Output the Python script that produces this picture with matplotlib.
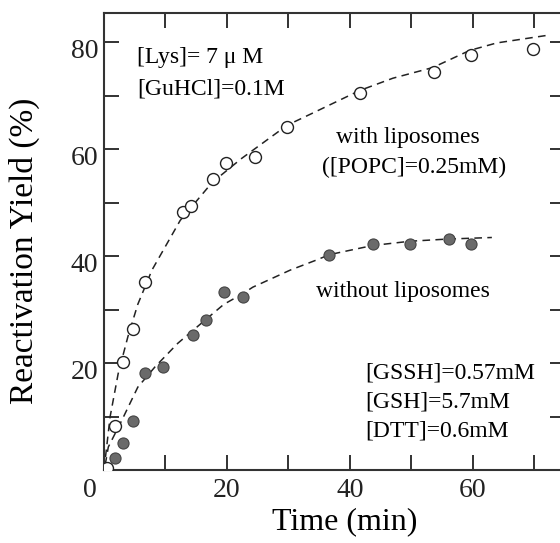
import matplotlib
matplotlib.use("Agg")
import matplotlib.pyplot as plt
from matplotlib.ticker import MultipleLocator
import matplotlib.transforms as mtrans

plt.rcParams['font.family'] = ['Liberation Serif', 'DejaVu Serif']

# data
t_with = [0.5, 1.8, 3.1, 4.7, 6.7, 12.8, 14.1, 17.8, 19.8, 24.6, 29.8, 41.6, 53.7, 59.7, 69.8]
y_with = [0.3, 8.2, 20.2, 26.4, 35.2, 48.3, 49.3, 54.5, 57.4, 58.5, 64.1, 70.5, 74.4, 77.6, 78.7]

t_without = [1.8, 3.1, 4.7, 6.7, 9.6, 14.5, 16.6, 19.5, 22.6, 36.6, 43.7, 49.8, 56.1, 59.7]
y_without = [2.2, 5.0, 9.2, 18.1, 19.3, 25.3, 28.1, 33.3, 32.4, 40.2, 42.2, 42.2, 43.2, 42.2]

# dashed fit curves (traced)
fit_with_t = [0, 1.0, 2.3, 3.9, 5.5, 7.8, 12.4, 17.6, 22.4, 29.8, 34.0, 41.6, 47.0, 53.5, 59.5, 63.9, 72]
fit_with_y = [0, 10, 18, 25, 31, 37.4, 46.7, 53.8, 58.3, 64.5, 66.8, 71.0, 73.3, 75.3, 78.5, 79.9, 81.3]

fit_wo_t = [0.2, 0.7, 2.9, 5.5, 8.3, 12.0, 16.4, 19.5, 22.6, 24.2, 30.3, 34.6, 36.7, 43.7, 49.8, 55.8, 63.1]
fit_wo_y = [1.0, 4.3, 9.3, 15.5, 19.3, 23.7, 28.0, 31.0, 33.0, 34.2, 37.4, 39.3, 40.3, 42.0, 42.8, 43.2, 43.5]

xticks = [0, 20, 40, 60]
yticks = [20, 40, 60, 80]

fig = plt.figure(figsize=(5.6, 5.43), dpi=100)
ax = fig.add_axes([104/560, 73/543, 461/560, 457/543])

ax.plot(fit_with_t, fit_with_y, ls=(0, (5, 3.5)), color='#222222', lw=1.1, zorder=2)
ax.plot(fit_wo_t, fit_wo_y, ls=(0, (5, 3.5)), color='#222222', lw=1.1, zorder=2)
ax.plot(t_with, y_with, 'o', ms=8.6, mfc='white', mec='#222222', mew=1.0, zorder=3)
ax.plot(t_without, y_without, 'o', ms=8.0, mfc='#6a6a6a', mec='#444444', mew=0.8, zorder=3)

ax.set_xlim(0, 75)
ax.set_ylim(0, 85.5)
ax.set_xticks(xticks)
ax.set_yticks(yticks)
ax.xaxis.set_minor_locator(MultipleLocator(10))
ax.yaxis.set_minor_locator(MultipleLocator(10))
ax.tick_params(which='both', direction='in', top=True, right=True,
               length=10.5, width=1.3, labelsize=20, pad=4, colors='#222222')
ax.tick_params(axis='x', pad=6)

for s in ax.spines.values():
    s.set_linewidth(1.5)
    s.set_color('#333333')

# the "0" label sits left of its tick, y labels sit a bit low
lab0 = ax.get_xticklabels()[0]
lab0.set_transform(lab0.get_transform() + mtrans.ScaledTranslation(-0.14, 0, fig.dpi_scale_trans))
for lab in ax.get_yticklabels():
    lab.set_transform(lab.get_transform() + mtrans.ScaledTranslation(0, -0.06, fig.dpi_scale_trans))

ax.set_xlabel('Time (min)', fontsize=23)
ax.set_ylabel('Reactivation Yield (%)', fontsize=24)
ax.xaxis.set_label_coords(0.523, -0.082)
ax.yaxis.set_label_coords(-0.139, 0.479)

fs = 17
ax.text(5.4, 76.1, '[Lys]= 7 μ M', fontsize=fs, va='baseline')
ax.text(5.4, 70.2, '[GuHCl]=0.1M', fontsize=fs, va='baseline')
ax.text(49.5, 61.2, 'with liposomes', fontsize=fs, ha='center', va='baseline')
ax.text(50.4, 55.6, '([POPC]=0.25mM)', fontsize=fs, ha='center', va='baseline')
ax.text(48.6, 32.4, 'without liposomes', fontsize=fs, ha='center', va='baseline')
ax.text(42.5, 17.2, '[GSSH]=0.57mM', fontsize=fs, va='baseline')
ax.text(42.5, 11.6, '[GSH]=5.7mM', fontsize=fs, va='baseline')
ax.text(42.5, 6.2, '[DTT]=0.6mM', fontsize=fs, va='baseline')

fig.savefig('out.png', dpi=100)
